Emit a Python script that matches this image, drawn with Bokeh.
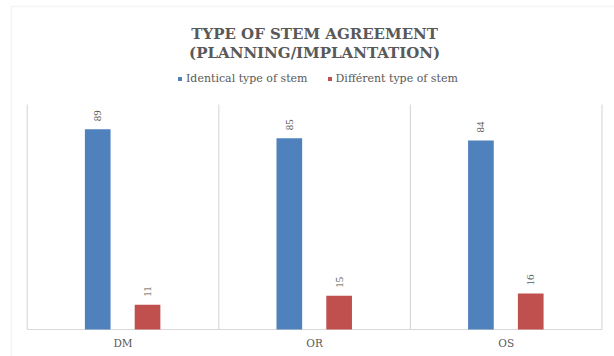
from math import pi

from bokeh.core.properties import value
from bokeh.embed import file_html
from bokeh.models import (BoxAnnotation, ColumnDataSource, Label, Legend,
                          LegendItem, Range1d)
from bokeh.plotting import figure
from bokeh.resources import INLINE

# Chart data
categories = ["DM", "OR", "OS"]
identical = [89, 85, 84]
different = [11, 15, 16]
series_names = ["Identical type of stem", "Différent type of stem"]
title_lines = ["TYPE OF STEM AGREEMENT", "(PLANNING/IMPLANTATION)"]

BLUE = "#4f81bd"
RED = "#c0504d"
GRAY = "#595959"
LIGHT = "#d9d9d9"

# each category occupies one unit on the x scale; bars are dodged inside it
centers = [i + 0.5 for i in range(len(categories))]
BAR_W = 0.134
OFF_A, OFF_B = -0.132, 0.128

src = ColumnDataSource(dict(
    cat=categories,
    xc=centers,
    xa=[c + OFF_A for c in centers],
    xb=[c + OFF_B for c in centers],
    identical=identical,
    different=different,
    identical_txt=[str(v) for v in identical],
    different_txt=[str(v) for v in different],
))

p = figure(
    width=614, height=356,
    x_range=Range1d(-0.1394, 3.0652),
    y_range=Range1d(-12.0, 146.22),
    output_backend="svg", toolbar_location=None,
    min_border=0, x_axis_location=None, y_axis_location=None,
    outline_line_color=None,
    background_fill_color="white", border_fill_color="white",
)
p.xgrid.grid_line_color = None
p.ygrid.grid_line_color = None

# vertical separators between the category groups, and the base line
seps = list(range(len(categories) + 1))
p.segment(x0=seps, y0=[0] * len(seps), x1=seps, y1=[100] * len(seps),
          line_color=LIGHT, line_width=1.2)
p.segment(x0=[0], y0=[0], x1=[len(categories)], y1=[0],
          line_color=LIGHT, line_width=1.2)

r1 = p.vbar(x="xa", top="identical", width=BAR_W, source=src,
            fill_color=BLUE, line_color=None)
r2 = p.vbar(x="xb", top="different", width=BAR_W, source=src,
            fill_color=RED, line_color=None)

# rotated value labels above each bar
for xcol, col in (("xa", "identical"), ("xb", "different")):
    p.text(x=xcol, y=col, text=col + "_txt", source=src, angle=pi / 2,
           text_align="left", text_baseline="middle", y_offset=-8,
           text_font=value("Liberation Serif"), text_font_size="11px",
           text_color=GRAY)

# category labels under the base line
p.text(x="xc", y=-6.2, text="cat", source=src, text_align="center",
       text_baseline="middle", text_font=value("DejaVu Serif"),
       text_font_size="10.5px", text_color=GRAY)

# two-line title
for txt, y in zip(title_lines, (131.4, 122.9)):
    p.add_layout(Label(x=1.5, y=y, text=txt, text_align="center",
                       text_baseline="alphabetic", text_font="DejaVu Serif",
                       text_font_style="bold", text_font_size="15px",
                       text_color=GRAY))

legend = Legend(
    items=[LegendItem(label=series_names[0], renderers=[r1]),
           LegendItem(label=series_names[1], renderers=[r2])],
    orientation="horizontal", location=(177, 271),
    glyph_width=5, glyph_height=5, label_standoff=4, spacing=19,
    padding=0, margin=0, border_line_color=None, background_fill_alpha=0,
    label_text_font="DejaVu Serif", label_text_font_size="11px",
    label_text_color=GRAY, label_height=14,
)
p.add_layout(legend)

# chart-area border
p.add_layout(BoxAnnotation(left=-0.082, right=10, top=143.6, bottom=-50,
                           fill_alpha=0, line_color=LIGHT, line_width=1.5))

open("out.html", "w").write(file_html(p, INLINE))
